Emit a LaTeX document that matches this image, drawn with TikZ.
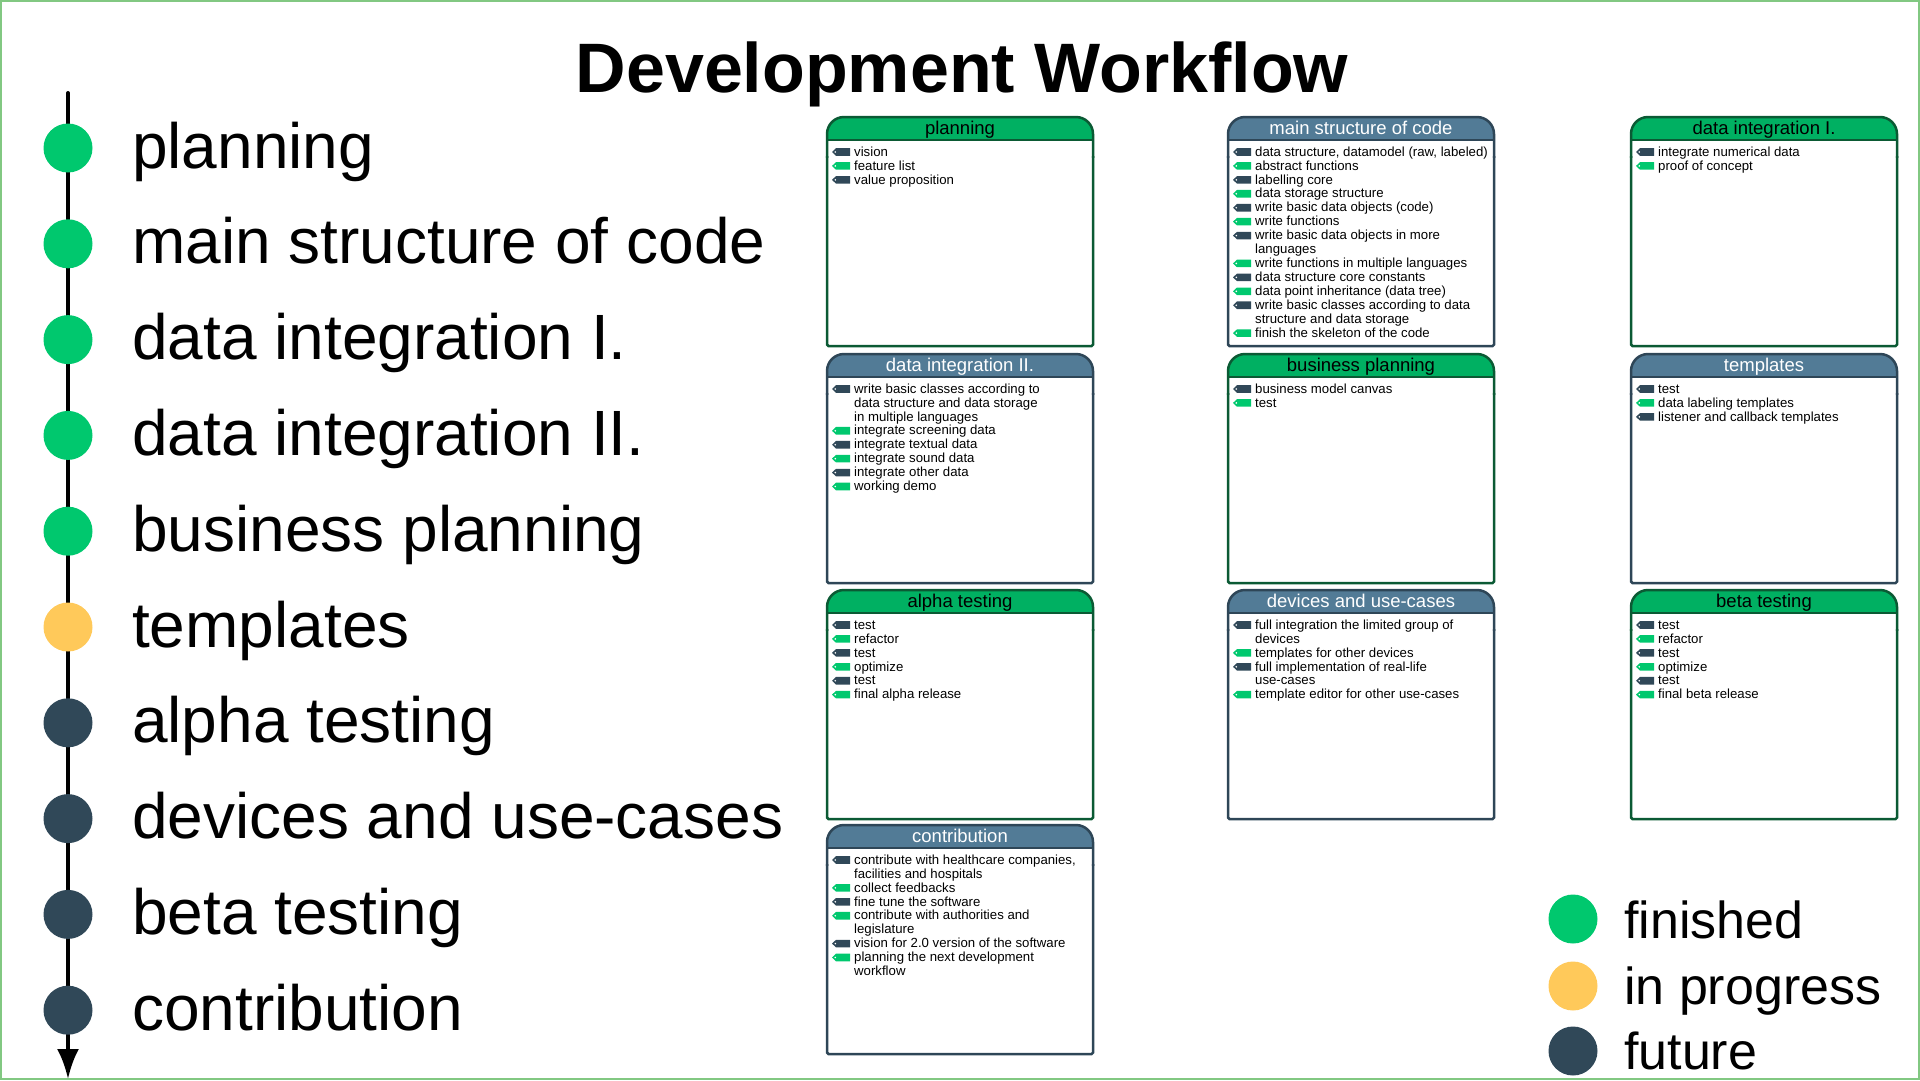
\documentclass[tikz,border=0pt]{standalone}
\usepackage{fontspec}
\setmainfont{Liberation Sans}
\usetikzlibrary{arrows.meta}
\definecolor{cg}{HTML}{00C86E}
\definecolor{cy}{HTML}{FFC95A}
\definecolor{cd}{HTML}{304858}
\definecolor{hg}{HTML}{00B062}
\definecolor{bg}{HTML}{0B5A34}
\definecolor{hb}{HTML}{527B96}
\definecolor{bb}{HTML}{2E4657}
\colorlet{tg}{black}
\colorlet{tb}{white}
\definecolor{pageframe}{HTML}{82C882}
\newcount\nid
\newcommand\tagat[3]{%
  \fill[#3] (#1,#2) -- (#1+4,#2-3.8) -- (#1+18,#2-3.8) -- (#1+18,#2+3.8) -- (#1+4,#2+3.8) -- cycle;
  \fill[white] (#1+3.3,#2) circle (0.9);
}
\newcommand\wfbox[5]{%
  \def\bx{#2}\def\by{#3}%
  \begin{scope}
    \clip (#2-3,#3-3) rectangle (#2+269,#3+23);
    \fill[h#4, rounded corners=17] (#2,#3) rectangle (#2+266,#3+60);
  \end{scope}
  \begin{scope}
    \clip (#2-3,#3-3) rectangle (#2+269,#3+40);
    \draw[b#4, boxline, rounded corners=17] (#2,#3) rectangle (#2+266,#3+80);
  \end{scope}
  \draw[b#4, boxline, rounded corners=1.5] (#2,#3+39) -- (#2,#3+229) -- (#2+266,#3+229) -- (#2+266,#3+39);
  \draw[b#4, boxline] (#2,#3+23) -- (#2+266,#3+23);
  \node[boxtitle, text=t#4, name=#1] at (#2+133,#3+17) {#5};
  \pgfmathsetmacro\iy{#3+35}%
}
\newcommand\itm[3]{%
  \tagat{\bx+5}{\iy}{c#1}%
  \global\advance\nid by 1
  \node[itemtext, name=item\the\nid] at (\bx+27,\iy-6) {\rule{0pt}{10pt}#3};
  \pgfmathsetmacro\iy{\iy+#2*13.93}%
}
\begin{document}
\begin{tikzpicture}[x=1pt,y=-1pt,
  boxline/.style={line width=2.5},
  boxtitle/.style={font=\fontsize{18.5}{20}\selectfont, anchor=base, inner sep=0},
  itemtext/.style={font=\fontsize{13.2}{13.93}\selectfont, align=left, anchor=north west, inner sep=0},
  dot/.style={circle, inner sep=0, minimum size=49},
  biglabel/.style={font=\fontsize{64}{70}\selectfont, anchor=base west, inner sep=0},
  leglabel/.style={font=\fontsize{52}{56}\selectfont, anchor=base west, inner sep=0}]
\useasboundingbox (0,0) rectangle (1920,1080);
\draw[pageframe, line width=2] (1,1) rectangle (1919,1079);

\node[font=\bfseries\fontsize{70}{80}\selectfont, anchor=base, inner sep=0, name=title] at (962,92) {Development Workflow};

% timeline
\coordinate (ttop) at (68,93);
\coordinate (tbot) at (68,1079);
\draw[line width=4, line cap=round, -{Latex[length=30,width=22]}] (ttop) -- (tbot);
\foreach \i/\c/\t in {0/cg/planning,1/cg/main structure of code,2/cg/data integration I.,3/cg/data integration II.,4/cg/business planning,5/cy/templates,6/cd/alpha testing,7/cd/devices and use-cases,8/cd/beta testing,9/cd/contribution}{
  \pgfmathsetmacro\cy{148+\i*95.8}
  \node[dot, fill=\c, name=p\i] at (68,\cy) {};
  \node[biglabel, name=l\i] at (132,\cy+20) {\t};
}

% legend
\node[dot, fill=cg, name=lg1] at (1573,919) {};
\node[leglabel, name=lt1] at (1624,938) {finished};
\node[dot, fill=cy, name=lg2] at (1573,986) {};
\node[leglabel, name=lt2] at (1624,1004) {in progress};
\node[dot, fill=cd, name=lg3] at (1573,1051) {};
\node[leglabel, name=lt3] at (1624,1069) {future};

% boxes
\wfbox{b1}{827}{117}{g}{planning}
\itm{d}{1}{vision}
\itm{g}{1}{feature list}
\itm{d}{1}{value proposition}

\wfbox{b2}{1228}{117}{b}{main structure of code}
\itm{d}{1}{data structure, datamodel (raw, labeled)}
\itm{g}{1}{abstract functions}
\itm{d}{1}{labelling core}
\itm{g}{1}{data storage structure}
\itm{d}{1}{write basic data objects (code)}
\itm{g}{1}{write functions}
\itm{d}{2}{write basic data objects in more\\languages}
\itm{g}{1}{write functions in multiple languages}
\itm{d}{1}{data structure core constants}
\itm{g}{1}{data point inheritance (data tree)}
\itm{d}{2}{write basic classes according to data\\structure and data storage}
\itm{g}{1}{finish the skeleton of the code}

\wfbox{b3}{1631}{117}{g}{data integration I.}
\itm{d}{1}{integrate numerical data}
\itm{g}{1}{proof of concept}

\wfbox{b4}{827}{354}{b}{data integration II.}
\itm{d}{3}{write basic classes according to\\data structure and data storage\\in multiple languages}
\itm{g}{1}{integrate screening data}
\itm{d}{1}{integrate textual data}
\itm{g}{1}{integrate sound data}
\itm{d}{1}{integrate other data}
\itm{g}{1}{working demo}

\wfbox{b5}{1228}{354}{g}{business planning}
\itm{d}{1}{business model canvas}
\itm{g}{1}{test}

\wfbox{b6}{1631}{354}{b}{templates}
\itm{d}{1}{test}
\itm{g}{1}{data labeling templates}
\itm{d}{1}{listener and callback templates}

\wfbox{b7}{827}{590}{g}{alpha testing}
\itm{d}{1}{test}
\itm{g}{1}{refactor}
\itm{d}{1}{test}
\itm{g}{1}{optimize}
\itm{d}{1}{test}
\itm{g}{1}{final alpha release}

\wfbox{b8}{1228}{590}{b}{devices and use-cases}
\itm{d}{2}{full integration the limited group of\\devices}
\itm{g}{1}{templates for other devices}
\itm{d}{2}{full implementation of real-life\\use-cases}
\itm{g}{1}{template editor for other use-cases}

\wfbox{b9}{1631}{590}{g}{beta testing}
\itm{d}{1}{test}
\itm{g}{1}{refactor}
\itm{d}{1}{test}
\itm{g}{1}{optimize}
\itm{d}{1}{test}
\itm{g}{1}{final beta release}

\wfbox{b10}{827}{825}{b}{contribution}
\itm{d}{2}{contribute with healthcare companies,\\facilities and hospitals}
\itm{g}{1}{collect feedbacks}
\itm{d}{1}{fine tune the software}
\itm{g}{2}{contribute with authorities and\\legislature}
\itm{d}{1}{vision for 2.0 version of the software}
\itm{g}{2}{planning the next development\\workflow}
\end{tikzpicture}
\end{document}
